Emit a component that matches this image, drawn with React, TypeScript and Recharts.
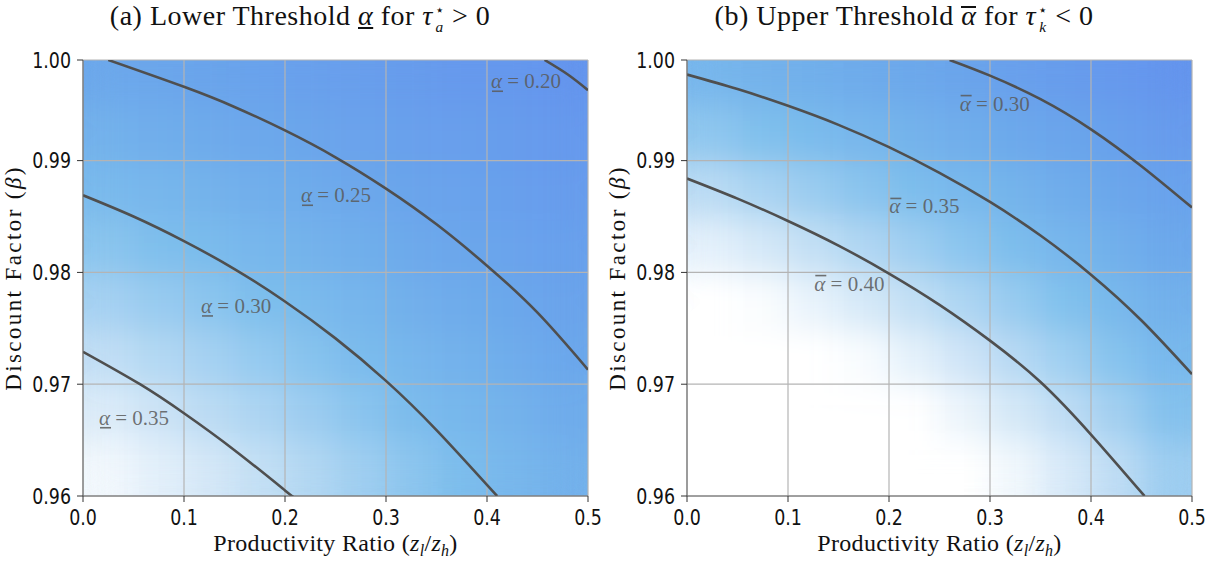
import React from 'react';
import { ComposedChart, Line, Scatter, XAxis, YAxis, ReferenceLine, Label } from 'recharts';

// grid of the shaded field (cell centres)
const Z_CENTERS = [0.025, 0.075, 0.125, 0.175, 0.225, 0.275, 0.325, 0.375, 0.425, 0.475];
const BETA_ROWS = [0.9975, 0.9925, 0.9875, 0.9825, 0.9775, 0.9725, 0.9675, 0.9625];

// lower threshold (panel a), rows top -> bottom
const LOWER_ALPHA: (number | null)[][] = [
  [0.258, 0.250, 0.244, 0.239, 0.233, 0.226, 0.220, 0.213, 0.209, 0.201],
  [0.276, 0.268, 0.262, 0.255, 0.247, 0.240, 0.233, 0.226, 0.220, 0.211],
  [0.294, 0.287, 0.279, 0.271, 0.263, 0.254, 0.246, 0.238, 0.230, 0.222],
  [0.312, 0.305, 0.297, 0.288, 0.279, 0.269, 0.260, 0.250, 0.241, 0.232],
  [0.329, 0.321, 0.313, 0.304, 0.295, 0.284, 0.273, 0.263, 0.253, 0.243],
  [0.347, 0.338, 0.329, 0.319, 0.310, 0.299, 0.287, 0.276, 0.265, 0.253],
  [0.365, 0.355, 0.344, 0.334, 0.324, 0.313, 0.301, 0.289, 0.278, 0.265],
  [0.380, 0.370, 0.360, 0.349, 0.338, 0.326, 0.314, 0.302, 0.290, 0.277],
];

// upper threshold (panel b), null = no threshold (white)
const UPPER_ALPHA: (number | null)[][] = [
  [0.347, 0.340, 0.333, 0.325, 0.319, 0.307, 0.296, 0.286, 0.276, 0.265],
  [0.374, 0.365, 0.357, 0.348, 0.340, 0.330, 0.318, 0.307, 0.295, 0.283],
  [0.400, 0.390, 0.381, 0.371, 0.361, 0.352, 0.341, 0.327, 0.314, 0.301],
  [0.426, 0.416, 0.405, 0.394, 0.383, 0.372, 0.361, 0.348, 0.333, 0.318],
  [null, 0.441, 0.429, 0.417, 0.405, 0.392, 0.379, 0.366, 0.351, 0.335],
  [null, null, null, 0.440, 0.427, 0.412, 0.398, 0.384, 0.369, 0.352],
  [null, null, null, null, 0.448, 0.432, 0.417, 0.403, 0.386, 0.368],
  [null, null, null, null, null, null, 0.435, 0.419, 0.403, 0.383],
];

// contour lines
const LOWER_20 = [
  { z: 0.457, b: 0.999 }, { z: 0.48, b: 0.9977 }, { z: 0.5, b: 0.9963 },
];
const LOWER_25 = [
  { z: 0.025, b: 0.999 }, { z: 0.1, b: 0.9966 }, { z: 0.15, b: 0.9948 }, { z: 0.2, b: 0.9927 },
  { z: 0.25, b: 0.9903 }, { z: 0.3, b: 0.9875 }, { z: 0.35, b: 0.9843 }, { z: 0.4, b: 0.9806 },
  { z: 0.45, b: 0.9764 }, { z: 0.5, b: 0.9713 },
];
const LOWER_30 = [
  { z: 0, b: 0.9869 }, { z: 0.05, b: 0.985 }, { z: 0.1, b: 0.9828 }, { z: 0.15, b: 0.9803 },
  { z: 0.2, b: 0.9774 }, { z: 0.25, b: 0.9741 }, { z: 0.3, b: 0.9703 }, { z: 0.35, b: 0.9659 },
  { z: 0.41, b: 0.96 },
];
const LOWER_35 = [
  { z: 0, b: 0.9729 }, { z: 0.0564, b: 0.97 }, { z: 0.1, b: 0.9674 }, { z: 0.15, b: 0.9641 },
  { z: 0.2, b: 0.9605 }, { z: 0.207, b: 0.96 },
];

const UPPER_30 = [
  { z: 0.26, b: 0.999 }, { z: 0.3, b: 0.9976 }, { z: 0.35, b: 0.9955 }, { z: 0.4, b: 0.9928 },
  { z: 0.45, b: 0.9895 }, { z: 0.5, b: 0.9858 },
];
const UPPER_35 = [
  { z: 0, b: 0.9977 }, { z: 0.05, b: 0.9964 }, { z: 0.1, b: 0.9949 }, { z: 0.15, b: 0.9932 },
  { z: 0.2, b: 0.9912 }, { z: 0.25, b: 0.9889 }, { z: 0.3, b: 0.9863 }, { z: 0.35, b: 0.9833 },
  { z: 0.4, b: 0.9798 }, { z: 0.45, b: 0.9757 }, { z: 0.5, b: 0.9709 },
];
const UPPER_40 = [
  { z: 0, b: 0.9884 }, { z: 0.05, b: 0.9866 }, { z: 0.1, b: 0.9846 }, { z: 0.15, b: 0.9824 },
  { z: 0.2, b: 0.9799 }, { z: 0.25, b: 0.9771 }, { z: 0.3, b: 0.9739 }, { z: 0.35, b: 0.9702 },
  { z: 0.4, b: 0.9655 }, { z: 0.453, b: 0.96 },
];

const LOWER_LABELS = [
  { z: 0.4376, b: 0.9971, text: '0.20' },
  { z: 0.2495, b: 0.9869, text: '0.25' },
  { z: 0.1505, b: 0.977, text: '0.30' },
  { z: 0.0495, b: 0.967, text: '0.35' },
];
const UPPER_LABELS = [
  { z: 0.3036, b: 0.9951, text: '0.30' },
  { z: 0.234, b: 0.9859, text: '0.35' },
  { z: 0.1597, b: 0.979, text: '0.40' },
];

const X_TICKS = [0, 0.1, 0.2, 0.3, 0.4, 0.5];
const Y_TICKS = [0.96, 0.97, 0.98, 0.99, 0.999];

const X_DOMAIN: [number, number] = [0, 0.5];
const Y_DOMAIN: [number, number] = [0.96, 0.999];
const DZ = 0.05;
const DB = 0.005;

const W = 616;
const H = 565;
const M = { top: 60, right: 28, bottom: 39, left: 23 };
const Y_AXIS_W = 60;
const X_AXIS_H = 30;
const PLOT_W = W - M.left - M.right - Y_AXIS_W;
const PLOT_H = H - M.top - M.bottom - X_AXIS_H;
const CELL_W = (PLOT_W * DZ) / (X_DOMAIN[1] - X_DOMAIN[0]);
const CELL_H = (PLOT_H * DB) / (Y_DOMAIN[1] - Y_DOMAIN[0]);

const SERIF = "'Liberation Serif', 'DejaVu Serif', serif";
const SANS = "'DejaVu Sans', sans-serif";

const STOPS: [number, number[]][] = [
  [0, [255, 255, 255]],
  [0.2, [200, 225, 245]],
  [0.45, [125, 190, 236]],
  [0.7, [108, 168, 235]],
  [1, [100, 149, 237]],
];

function shade(v: number | null, vmin: number, vmax: number) {
  if (v == null) return '#ffffff';
  const t = Math.max(0, Math.min(1, (vmax - v) / (vmax - vmin)));
  for (let i = 1; i < STOPS.length; i++) {
    const [t1, c1] = STOPS[i];
    const [t0, c0] = STOPS[i - 1];
    if (t <= t1) {
      const f = (t - t0) / (t1 - t0);
      const c = c0.map((a, k) => Math.round(a + (c1[k] - a) * f));
      return `rgb(${c[0]},${c[1]},${c[2]})`;
    }
  }
  return 'rgb(100,149,237)';
}

function buildCells(grid: (number | null)[][], vmin: number, vmax: number) {
  const cells: { z: number; b: number; fill: string }[] = [];
  BETA_ROWS.forEach((b, r) => {
    Z_CENTERS.forEach((z, c) => {
      cells.push({ z, b, fill: shade(grid[r][c], vmin, vmax) });
    });
  });
  return cells;
}

const HeatCell = (props: any) => {
  const { cx, cy, payload } = props;
  const top = Math.max(cy - CELL_H / 2, M.top);
  const bottom = cy + CELL_H / 2;
  return <rect x={cx - CELL_W / 2} y={top} width={CELL_W} height={bottom - top} fill={payload.fill} />;
};

const XTick = (props: any) => {
  const { x, y, payload } = props;
  return (
    <g transform={`translate(${x},${y})`}>
      <text transform="scale(0.83,1)" textAnchor="middle" dy={21} fontSize={21} fontFamily={SANS} fill="#111">
        {Number(payload.value).toFixed(1)}
      </text>
    </g>
  );
};

const YTick = (props: any) => {
  const { x, y, payload } = props;
  return (
    <g transform={`translate(${x},${y})`}>
      <text transform="scale(0.83,1)" textAnchor="end" dy="0.36em" fontSize={21} fontFamily={SANS} fill="#111">
        {Number(payload.value).toFixed(2)}
      </text>
    </g>
  );
};

function makeLevelLabel(mark: 'under' | 'over') {
  return (props: any) => {
    const { cx, cy, payload } = props;
    const x0 = cx - 34;
    const barY = mark === 'under' ? cy + 10 : cy - 8;
    return (
      <g fill="#5a5a5a" fillOpacity={0.85}>
        <text x={x0} y={cy} dominantBaseline="central" fontFamily={SERIF} fontSize={21}>
          <tspan fontStyle="italic">α</tspan>
          <tspan> = {payload.text}</tspan>
        </text>
        <line x1={x0 + 1} x2={x0 + 12} y1={barY} y2={barY} stroke="#5a5a5a" strokeOpacity={0.85} strokeWidth={1.6} />
      </g>
    );
  };
}

const XTitle = (props: any) => {
  const { viewBox } = props;
  const cx = viewBox.x + viewBox.width / 2;
  return (
    <text x={cx} y={viewBox.y + 55} textAnchor="middle" fontFamily={SERIF} fontSize={24} letterSpacing={0.3} fill="#111">
      <tspan>Productivity Ratio (</tspan>
      <tspan fontStyle="italic">z</tspan>
      <tspan fontStyle="italic" fontSize={16} dy={5}>l</tspan>
      <tspan dy={-5}>/</tspan>
      <tspan fontStyle="italic">z</tspan>
      <tspan fontStyle="italic" fontSize={16} dy={5}>h</tspan>
      <tspan dy={-5}>)</tspan>
    </text>
  );
};

const YTitle = (props: any) => {
  const { viewBox } = props;
  const x = viewBox.x - 2;
  const y = viewBox.y + viewBox.height / 2;
  return (
    <text x={x} y={y} transform={`rotate(-90, ${x}, ${y})`} textAnchor="middle" fontFamily={SERIF} fontSize={23} letterSpacing={2.4} fill="#111">
      <tspan>Discount Factor (</tspan>
      <tspan fontStyle="italic">β</tspan>
      <tspan>)</tspan>
    </text>
  );
};

interface PanelProps {
  left: number;
  title: React.ReactNode;
  grid: (number | null)[][];
  vmin: number;
  vmax: number;
  contours: { z: number; b: number }[][];
  labels: { z: number; b: number; text: string }[];
  mark: 'under' | 'over';
}

function Panel({ left, title, grid, vmin, vmax, contours, labels, mark }: PanelProps) {
  const cells = buildCells(grid, vmin, vmax);
  const LevelLabel = makeLevelLabel(mark);
  return (
    <div style={{ position: 'absolute', left, top: 0, width: W, height: H }}>
      <div style={{ position: 'absolute', left: 0, top: 0, width: 600, textAlign: 'center', fontFamily: SERIF, fontSize: 28, letterSpacing: 0.5, color: '#111', whiteSpace: 'nowrap' }}>
        {title}
      </div>
      <ComposedChart width={W} height={H} margin={M}>
        <XAxis
          type="number" dataKey="z" domain={X_DOMAIN} ticks={X_TICKS} allowDataOverflow
          height={X_AXIS_H} tick={<XTick />} tickSize={6} tickLine={{ stroke: '#333' }} axisLine={{ stroke: '#666' }}
        >
          <Label content={<XTitle />} />
        </XAxis>
        <YAxis
          type="number" dataKey="b" domain={Y_DOMAIN} ticks={Y_TICKS} allowDataOverflow
          width={Y_AXIS_W} tick={<YTick />} tickSize={6} tickMargin={6} tickLine={{ stroke: '#333' }} axisLine={{ stroke: '#666' }}
        >
          <Label content={<YTitle />} />
        </YAxis>
        <Scatter data={cells} shape={<HeatCell />} className="heat-field" isAnimationActive={false} zIndex={50} />
        {X_TICKS.map((t) => (
          <ReferenceLine key={`gx${t}`} x={t} stroke="#b4b4b4" strokeWidth={1.2} zIndex={60} />
        ))}
        {Y_TICKS.map((t) => (
          <ReferenceLine key={`gy${t}`} y={t} stroke="#b4b4b4" strokeWidth={1.2} zIndex={60} />
        ))}
        {contours.map((c, i) => (
          <Line
            key={i} data={c} dataKey="b" type="natural" stroke="#4f4f4f" strokeWidth={2.6}
            dot={false} activeDot={false} isAnimationActive={false} zIndex={400}
          />
        ))}
        <Scatter data={labels} shape={<LevelLabel />} isAnimationActive={false} zIndex={700} />
      </ComposedChart>
    </div>
  );
}

const SupSub = ({ sup, sub }: { sup: string; sub: string }) => (
  <span style={{ display: 'inline-flex', flexDirection: 'column', verticalAlign: 'middle', fontSize: '0.55em', lineHeight: 1.05, marginLeft: 2 }}>
    <span>{sup}</span>
    <i>{sub}</i>
  </span>
);

const Over = ({ children }: { children: React.ReactNode }) => (
  <span style={{ display: 'inline-block', borderTop: '2px solid #111', lineHeight: '0.5em', paddingTop: 1 }}>
    <i>{children}</i>
  </span>
);

export default function App() {
  return (
    <div style={{ position: 'relative', width: 1219, height: 565, background: '#fff', overflow: 'hidden' }}>
      <style>{`body{margin:0} .heat-field{filter:url(#heatBlur)}`}</style>
      <svg width={0} height={0} style={{ position: 'absolute' }}>
        <defs>
          <filter id="heatBlur" x="0" y="0" width="1" height="1" colorInterpolationFilters="sRGB">
            <feGaussianBlur stdDeviation={16} />
            <feComponentTransfer>
              <feFuncA type="linear" slope={0} intercept={1} />
            </feComponentTransfer>
          </filter>
        </defs>
      </svg>
      <Panel
        left={0}
        title={<>(a) Lower Threshold <i style={{ textDecoration: 'underline' }}>α</i> for <i>τ</i><SupSub sup="⋆" sub="a" /> &gt; 0</>}
        grid={LOWER_ALPHA}
        vmin={0.2}
        vmax={0.39}
        contours={[LOWER_20, LOWER_25, LOWER_30, LOWER_35]}
        labels={LOWER_LABELS}
        mark="under"
      />
      <Panel
        left={604}
        title={<>(b) Upper Threshold <Over>α</Over> for <i>τ</i><SupSub sup="⋆" sub="k" /> &lt; 0</>}
        grid={UPPER_ALPHA}
        vmin={0.265}
        vmax={0.445}
        contours={[UPPER_30, UPPER_35, UPPER_40]}
        labels={UPPER_LABELS}
        mark="over"
      />
    </div>
  );
}
